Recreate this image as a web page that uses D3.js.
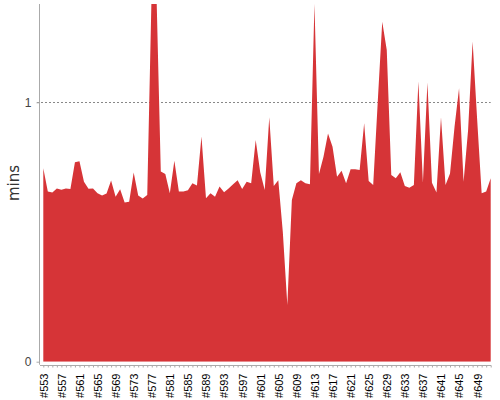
<!DOCTYPE html>
<html>
<head>
<meta charset="utf-8">
<script src="https://cdn.jsdelivr.net/npm/d3@7"></script>
<style>
  body { margin: 0; background: #fff; }
  svg { display: block; font-family: "DejaVu Sans", sans-serif; }
</style>
</head>
<body>
<svg width="500" height="400"></svg>
<script>
// build numbers #553 .. #652
var firstBuild = 553;
var builds = d3.range(firstBuild, firstBuild + 100).map(function(n) { return '#' + n; });

// build time in minutes
var minutes = [
  0.746, 0.656, 0.652, 0.668, 0.663, 0.668, 0.666, 0.769, 0.773, 0.694,
  0.667, 0.668, 0.649, 0.641, 0.648, 0.699, 0.636, 0.665, 0.614, 0.617,
  0.729, 0.641, 0.629, 0.643, 1.45, 1.45, 0.733, 0.724, 0.649, 0.775,
  0.656, 0.656, 0.661, 0.688, 0.679, 0.868, 0.630, 0.649, 0.636, 0.675,
  0.653, 0.668, 0.684, 0.700, 0.666, 0.694, 0.688, 0.855, 0.730, 0.662,
  0.942, 0.677, 0.700, 0.500, 0.219, 0.623, 0.688, 0.700, 0.688, 0.684,
  1.38, 0.724, 0.790, 0.880, 0.829, 0.713, 0.736, 0.688, 0.742, 0.742,
  0.739, 0.919, 0.697, 0.681, 1.000, 1.311, 1.202, 0.720, 0.707, 0.730,
  0.677, 0.671, 0.681, 1.080, 0.690, 1.076, 0.690, 0.652, 0.942, 0.681,
  0.726, 0.906, 1.054, 0.694, 0.893, 1.234, 0.935, 0.649, 0.656, 0.707
];

var yTicks = [0, 1];
var yTitle = 'mins';

// plot area (top is taken by window.top, so other names)
var plotLeft = 43.3, plotRight = 490.7, plotTop = 4, plotBottom = 361.7;

var svg = d3.select('svg');

var x = d3.scalePoint().domain(builds).range([plotLeft, plotRight]);
var y = d3.scaleLinear().domain([0, 1.379]).range([plotBottom, plotTop]);

svg.append('clipPath')
    .attr('id', 'plot')
  .append('rect')
    .attr('x', 40)
    .attr('y', plotTop)
    .attr('width', plotRight - 40 + 1)
    .attr('height', plotBottom - plotTop);

// dashed grid line at 1
svg.append('g')
  .selectAll('line')
  .data(yTicks.filter(function(d) { return d > 0; }))
  .enter()
  .append('line')
    .attr('x1', 37)
    .attr('x2', plotRight)
    .attr('y1', function(d) { return Math.round(y(d)) + 0.5; })
    .attr('y2', function(d) { return Math.round(y(d)) + 0.5; })
    .attr('stroke', '#888')
    .attr('stroke-dasharray', '2,2');

var area = d3.area()
    .x(function(d, i) { return x(builds[i]); })
    .y0(y(0))
    .y1(function(d) { return y(d); });

svg.append('path')
    .datum(minutes)
    .attr('clip-path', 'url(#plot)')
    .attr('fill', '#d63437')
    .attr('d', area);

// y axis
var yAxis = svg.append('g')
    .attr('transform', 'translate(39.5,0)')
    .call(d3.axisLeft(y).tickValues(yTicks).tickSize(3).tickPadding(5).tickFormat(d3.format('d')));
yAxis.select('.domain')
    .attr('stroke', '#aaa')
    .attr('d', 'M0,' + plotTop + 'V' + (plotBottom + 3));
yAxis.selectAll('.tick line').attr('stroke', '#aaa');
yAxis.selectAll('.tick text')
    .attr('fill', '#444')
    .style('font-size', '12px');

svg.append('text')
    .attr('transform', 'translate(18.5,183) rotate(-90)')
    .attr('text-anchor', 'middle')
    .attr('fill', '#333')
    .style('font-size', '15px')
    .text(yTitle);

// x axis, only every 4th build gets a label
var xAxis = svg.append('g')
    .attr('transform', 'translate(0,365.5)')
    .call(d3.axisBottom(x).tickSize(2).tickSizeOuter(0).tickFormat(function(d, i) {
      return i % 4 === 0 ? d : '';
    }));
xAxis.select('.domain')
    .attr('stroke', '#aaa')
    .attr('d', 'M40,0H' + (plotRight + 0.5));
xAxis.selectAll('.tick line').attr('stroke', '#aaa');
xAxis.selectAll('.tick text')
    .attr('fill', '#000')
    .style('font-family', '"Liberation Sans", Arial, sans-serif')
    .style('font-size', '11px')
    .attr('text-anchor', 'end')
    .attr('transform', 'translate(0,8) rotate(-90)')
    .attr('x', 0)
    .attr('y', 0)
    .attr('dy', '0.35em');
</script>
</body>
</html>
